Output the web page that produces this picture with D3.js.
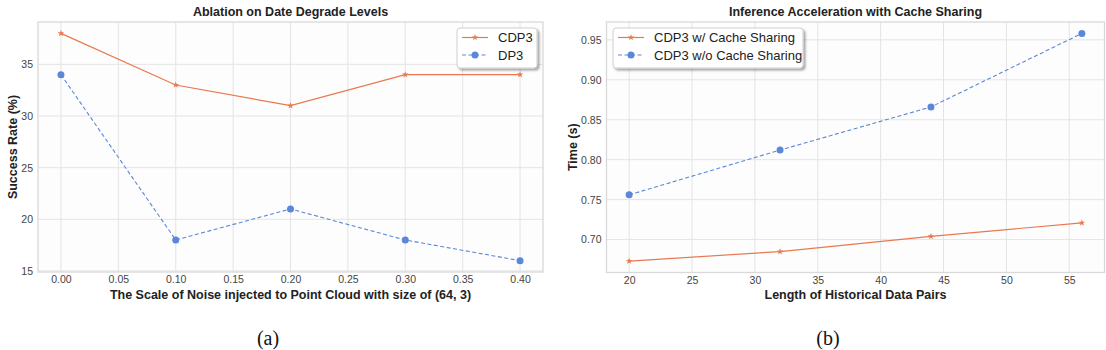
<!DOCTYPE html>
<html><head><meta charset="utf-8">
<script src="https://cdnjs.cloudflare.com/ajax/libs/d3/7.8.5/d3.min.js"></script>
<style>
html,body{margin:0;padding:0;background:#fff;}
svg{display:block;font-family:"Liberation Sans",Arial,sans-serif;}
</style></head><body>
<svg id="c" width="1106" height="350"></svg>
<script>
// ---- data ----
const noiseLevels = [0.00, 0.10, 0.20, 0.30, 0.40];
const cdp3Success = [38, 33, 31, 34, 34];
const dp3Success = [34, 18, 21, 18, 16];
const noiseTicks = [0.00, 0.05, 0.10, 0.15, 0.20, 0.25, 0.30, 0.35, 0.40];
const successTicks = [15, 20, 25, 30, 35];

const historyLengths = [20, 32, 44, 56];
const timeWithCache = [0.673, 0.685, 0.704, 0.721];
const timeWithoutCache = [0.756, 0.812, 0.866, 0.958];
const lengthTicks = [20, 25, 30, 35, 40, 45, 50, 55];
const timeTicks = [0.70, 0.75, 0.80, 0.85, 0.90, 0.95];

const ORANGE = "#e9784f", BLUE = "#5a87d9";
const svg = d3.select("#c");
const defs = svg.append("defs");
const f = defs.append("filter").attr("id","sh").attr("x","-20%").attr("y","-20%").attr("width","150%").attr("height","150%");
f.append("feDropShadow").attr("dx",2).attr("dy",2).attr("stdDeviation",0.8).attr("flood-color","#000").attr("flood-opacity",0.35);

const star = d3.symbol().type(d3.symbolStar).size(14);

function panel(o){
  const g = svg.append("g");
  const x = d3.scaleLinear().domain(o.xd).range([o.x0,o.x1]);
  const y = d3.scaleLinear().domain(o.yd).range([o.y1,o.y0]);
  g.append("rect").attr("x",o.x0).attr("y",o.y0).attr("width",o.x1-o.x0).attr("height",o.y1-o.y0).attr("fill","#fdfdfd");
  // grid
  g.selectAll(".gx").data(o.xt).enter().append("line")
    .attr("x1",d=>x(d)).attr("x2",d=>x(d)).attr("y1",o.y0).attr("y2",o.y1).attr("stroke","#e4e4e4").attr("stroke-width",1);
  g.selectAll(".gy").data(o.yt).enter().append("line")
    .attr("y1",d=>y(d)).attr("y2",d=>y(d)).attr("x1",o.x0).attr("x2",o.x1).attr("stroke","#e4e4e4").attr("stroke-width",1);
  // axes (tick labels)
  const ax = g.append("g").attr("transform",`translate(0,${o.y1})`)
    .call(d3.axisBottom(x).tickValues(o.xt).tickFormat(o.xf).tickSize(0).tickPadding(3));
  const ay = g.append("g").attr("transform",`translate(${o.x0},0)`)
    .call(d3.axisLeft(y).tickValues(o.yt).tickFormat(o.yf).tickSize(0).tickPadding(5));
  [ax,ay].forEach(a=>{a.select(".domain").remove();
    a.selectAll("text").attr("font-size",10.5).attr("fill","#444").attr("font-family","'Liberation Sans',Arial,sans-serif");});
  ax.selectAll("text").attr("dy","0.8em");
  // frame
  g.append("rect").attr("x",o.x0).attr("y",o.y0).attr("width",o.x1-o.x0).attr("height",o.y1-o.y0)
    .attr("fill","none").attr("stroke","#d9d9d9").attr("stroke-width",1.3);
  // series
  const line = d3.line().x(d=>x(d[0])).y(d=>y(d[1]));
  const s1 = o.xs.map((v,i)=>[v,o.a[i]]);
  const s2 = o.xs.map((v,i)=>[v,o.b[i]]);
  g.append("path").datum(s2).attr("d",line).attr("fill","none").attr("stroke",BLUE).attr("stroke-width",1.1).attr("stroke-dasharray","4,2.5");
  g.append("path").datum(s1).attr("d",line).attr("fill","none").attr("stroke",ORANGE).attr("stroke-width",1.2);
  g.selectAll(".m2").data(s2).enter().append("circle").attr("cx",d=>x(d[0])).attr("cy",d=>y(d[1])).attr("r",3.5).attr("fill",BLUE);
  g.selectAll(".m1").data(s1).enter().append("path").attr("d",star).attr("transform",d=>`translate(${x(d[0])},${y(d[1])})`).attr("fill",ORANGE);
  // title and labels
  g.append("text").attr("x",(o.x0+o.x1)/2).attr("y",16).attr("text-anchor","middle").attr("font-weight","bold").attr("font-size",12.5).attr("fill","#222").text(o.title);
  g.append("text").attr("x",(o.x0+o.x1)/2).attr("y",298.5).attr("text-anchor","middle").attr("font-weight","bold").attr("font-size",12.5).attr("fill","#222").text(o.xl);
  g.append("text").attr("transform",`translate(${o.ylx},${(o.y0+o.y1)/2}) rotate(-90)`).attr("text-anchor","middle").attr("font-weight","bold").attr("font-size",12.5).attr("fill","#222").text(o.yl);
  // legend
  const L = o.leg;
  const lg = g.append("g");
  lg.append("rect").attr("x",L.x).attr("y",L.y).attr("width",L.w).attr("height",40).attr("rx",3)
    .attr("fill","#fff").attr("stroke","#cfcfcf").attr("stroke-width",1).attr("filter","url(#sh)");
  const rows = [{t:o.n1,c:ORANGE,dash:null,m:"star"},{t:o.n2,c:BLUE,dash:"4,2.5",m:"circle"}];
  rows.forEach((r,i)=>{
    const yy = L.y+9.5+i*17.5;
    lg.append("line").attr("x1",L.x+5).attr("x2",L.x+31).attr("y1",yy).attr("y2",yy).attr("stroke",r.c).attr("stroke-width",1.2).attr("stroke-dasharray",r.dash);
    if(r.m==="star") lg.append("path").attr("d",star).attr("transform",`translate(${L.x+18},${yy})`).attr("fill",r.c);
    else lg.append("circle").attr("cx",L.x+18).attr("cy",yy).attr("r",3.5).attr("fill",r.c);
    lg.append("text").attr("x",L.x+41).attr("y",yy).attr("dy","0.35em").attr("font-size",13).attr("fill","#222").text(r.t);
  });
  g.append("text").attr("x",o.cap).attr("y",345).attr("text-anchor","middle").attr("font-family","'Liberation Serif','Times New Roman',serif").attr("font-size",20).attr("fill","#111").text(o.capt);
}

panel({x0:38,x1:543,y0:22,y1:272,xd:[-0.02,0.42],yd:[14.9,39.1],xt:noiseTicks,yt:successTicks,
  xf:d3.format(".2f"),yf:d3.format("d"),xs:noiseLevels,a:cdp3Success,b:dp3Success,
  title:"Ablation on Date Degrade Levels",xl:"The Scale of Noise injected to Point Cloud with size of (64, 3)",
  yl:"Success Rate (%)",ylx:17,n1:"CDP3",n2:"DP3",leg:{x:457,y:28,w:80},cap:268,capt:"(a)"});

panel({x0:606.5,x1:1104.5,y0:22,y1:272.5,xd:[18.2,57.8],yd:[0.6588,0.9723],xt:lengthTicks,yt:timeTicks,
  xf:d3.format("d"),yf:d3.format(".2f"),xs:historyLengths,a:timeWithCache,b:timeWithoutCache,
  title:"Inference Acceleration with Cache Sharing",xl:"Length of Historical Data Pairs",
  yl:"Time (s)",ylx:577,n1:"CDP3 w/ Cache Sharing",n2:"CDP3 w/o Cache Sharing",leg:{x:613,y:28,w:190},cap:828,capt:"(b)"});
</script>
</body></html>
